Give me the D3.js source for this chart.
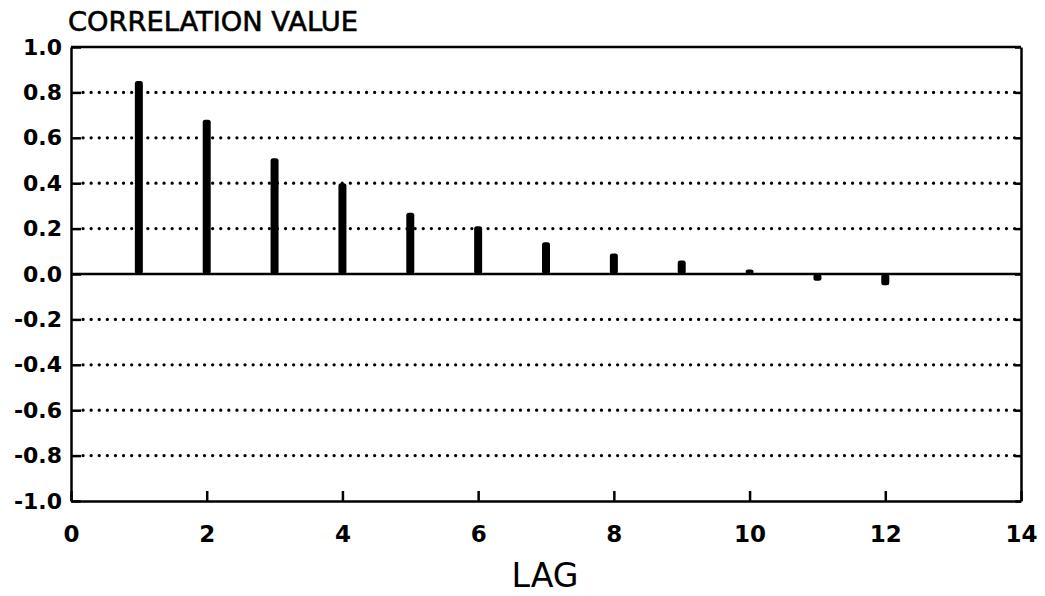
<!DOCTYPE html>
<html>
<head>
<meta charset="utf-8">
<script src="https://cdn.jsdelivr.net/npm/d3@7"></script>
<style>
  body { margin: 0; background: #fff; }
  svg { display: block; }
  text { fill: #000; }
</style>
</head>
<body>
<svg width="1045" height="596"></svg>
<script>
// data
const lags = [1, 2, 3, 4, 5, 6, 7, 8, 9, 10, 11, 12];
const correlations = [0.85, 0.68, 0.51, 0.40, 0.27, 0.21, 0.14, 0.09, 0.06, 0.02, -0.03, -0.05];
const xTicks = [0, 2, 4, 6, 8, 10, 12, 14];
const yTicks = [-1.0, -0.8, -0.6, -0.4, -0.2, 0.0, 0.2, 0.4, 0.6, 0.8, 1.0];
const gridTicks = [-0.8, -0.6, -0.4, -0.2, 0.2, 0.4, 0.6, 0.8];

var svg = d3.select('svg');

const plotLeft = 71, plotRight = 1021, plotTop = 47, plotBottom = 501;

const xScale = d3.scaleLinear().domain([0, 14]).range([plotLeft, plotRight]);
const yScale = d3.scaleLinear().domain([-1, 1]).range([plotBottom, plotTop]);

const fmt = d => d3.format('.1f')(d).replace('\u2212', '-');

// dotted grid
svg.append('g').selectAll('line').data(gridTicks)
  .enter().append('line')
  .attr('x1', plotLeft + 12).attr('x2', plotRight - 6)
  .attr('y1', d => yScale(d)).attr('y2', d => yScale(d))
  .attr('stroke', '#000')
  .attr('stroke-width', 3.2)
  .attr('stroke-linecap', 'round')
  .attr('stroke-dasharray', '0.1 8');

// zero line
svg.append('line')
  .attr('x1', plotLeft).attr('x2', plotRight)
  .attr('y1', yScale(0)).attr('y2', yScale(0))
  .attr('stroke', '#000').attr('stroke-width', 2.5);

// bars
svg.append('g').selectAll('rect').data(lags)
  .enter().append('rect')
  .attr('x', (d, i) => xScale(d) - 4)
  .attr('y', (d, i) => yScale(Math.max(0, correlations[i])))
  .attr('width', 8)
  .attr('height', (d, i) => Math.abs(yScale(correlations[i]) - yScale(0)))
  .attr('rx', 2.5)
  .attr('fill', '#000');

// axes
const axisStyle = g => {
  g.select('.domain').attr('stroke', '#000').attr('stroke-width', 2.5);
  g.selectAll('.tick line').attr('stroke', '#000').attr('stroke-width', 2.5);
};

svg.append('g')
  .attr('transform', `translate(${plotLeft},0)`)
  .call(d3.axisLeft(yScale).tickValues(yTicks).tickSize(-10).tickSizeOuter(0)
    .tickPadding(9).tickFormat(fmt))
  .call(axisStyle)
  .call(g => g.selectAll('text')
    .attr('font-family', 'DejaVu Sans')
    .attr('font-weight', 'bold')
    .attr('font-size', 22));

svg.append('g')
  .attr('transform', `translate(${plotRight},0)`)
  .call(d3.axisRight(yScale).tickValues(yTicks).tickSize(-6).tickSizeOuter(0)
    .tickFormat(''))
  .call(axisStyle);

svg.append('g')
  .attr('transform', `translate(0,${plotBottom})`)
  .call(d3.axisBottom(xScale).tickValues(xTicks).tickSize(-10).tickSizeOuter(0)
    .tickPadding(33).tickFormat(d3.format('d')))
  .call(axisStyle)
  .call(g => g.selectAll('text')
    .attr('dy', '0.35em')
    .attr('font-family', 'DejaVu Sans')
    .attr('font-weight', 'bold')
    .attr('font-size', 23));

svg.append('line')
  .attr('x1', plotLeft).attr('x2', plotRight)
  .attr('y1', plotTop).attr('y2', plotTop)
  .attr('stroke', '#000').attr('stroke-width', 2.5);

// titles
svg.append('text')
  .attr('x', 68).attr('y', 31)
  .attr('font-family', 'DejaVu Sans')
  .attr('font-size', 27)
  .attr('stroke', '#000')
  .attr('stroke-width', 0.6)
  .attr('textLength', 290)
  .attr('lengthAdjust', 'spacingAndGlyphs')
  .text('CORRELATION VALUE');

svg.append('text')
  .attr('x', 545).attr('y', 587)
  .attr('text-anchor', 'middle')
  .attr('font-family', 'DejaVu Sans')
  .attr('font-size', 34)
  .attr('textLength', 67)
  .attr('lengthAdjust', 'spacingAndGlyphs')
  .text('LAG');
</script>
</body>
</html>
